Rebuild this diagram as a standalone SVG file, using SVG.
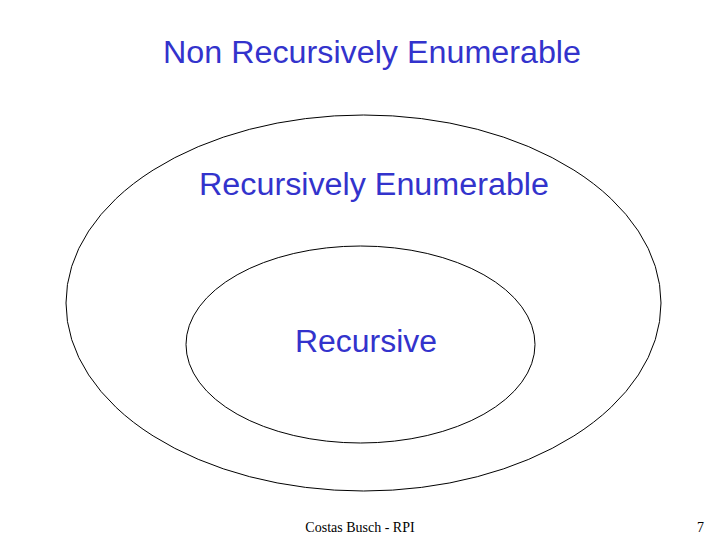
<svg xmlns="http://www.w3.org/2000/svg" width="720" height="540" viewBox="0 0 720 540">
<style>
.lbl{font-family:"Liberation Sans","DejaVu Sans",sans-serif;font-size:31px;fill:#3333CC;text-anchor:middle}
.ft{font-family:"Liberation Serif",serif;font-size:14px;fill:#000}
.el{fill:none;stroke:#000;stroke-width:1}
</style>
<rect width="720" height="540" fill="#fff"/>
<g id="nre"><text class="lbl" x="372" y="63" textLength="418" lengthAdjust="spacingAndGlyphs">Non Recursively Enumerable</text></g>
<g id="re"><ellipse class="el" cx="363.5" cy="303" rx="297.5" ry="188"/><text class="lbl" x="374" y="195" textLength="350" lengthAdjust="spacingAndGlyphs">Recursively Enumerable</text></g>
<g id="rec"><ellipse class="el" cx="360.5" cy="344.5" rx="174.5" ry="98.5"/><text class="lbl" x="366" y="352" textLength="142" lengthAdjust="spacingAndGlyphs">Recursive</text></g>
<g id="connectors"/>
<text class="ft" x="360" y="532" text-anchor="middle">Costas Busch - RPI</text>
<text class="ft" x="697" y="532">7</text>
</svg>
